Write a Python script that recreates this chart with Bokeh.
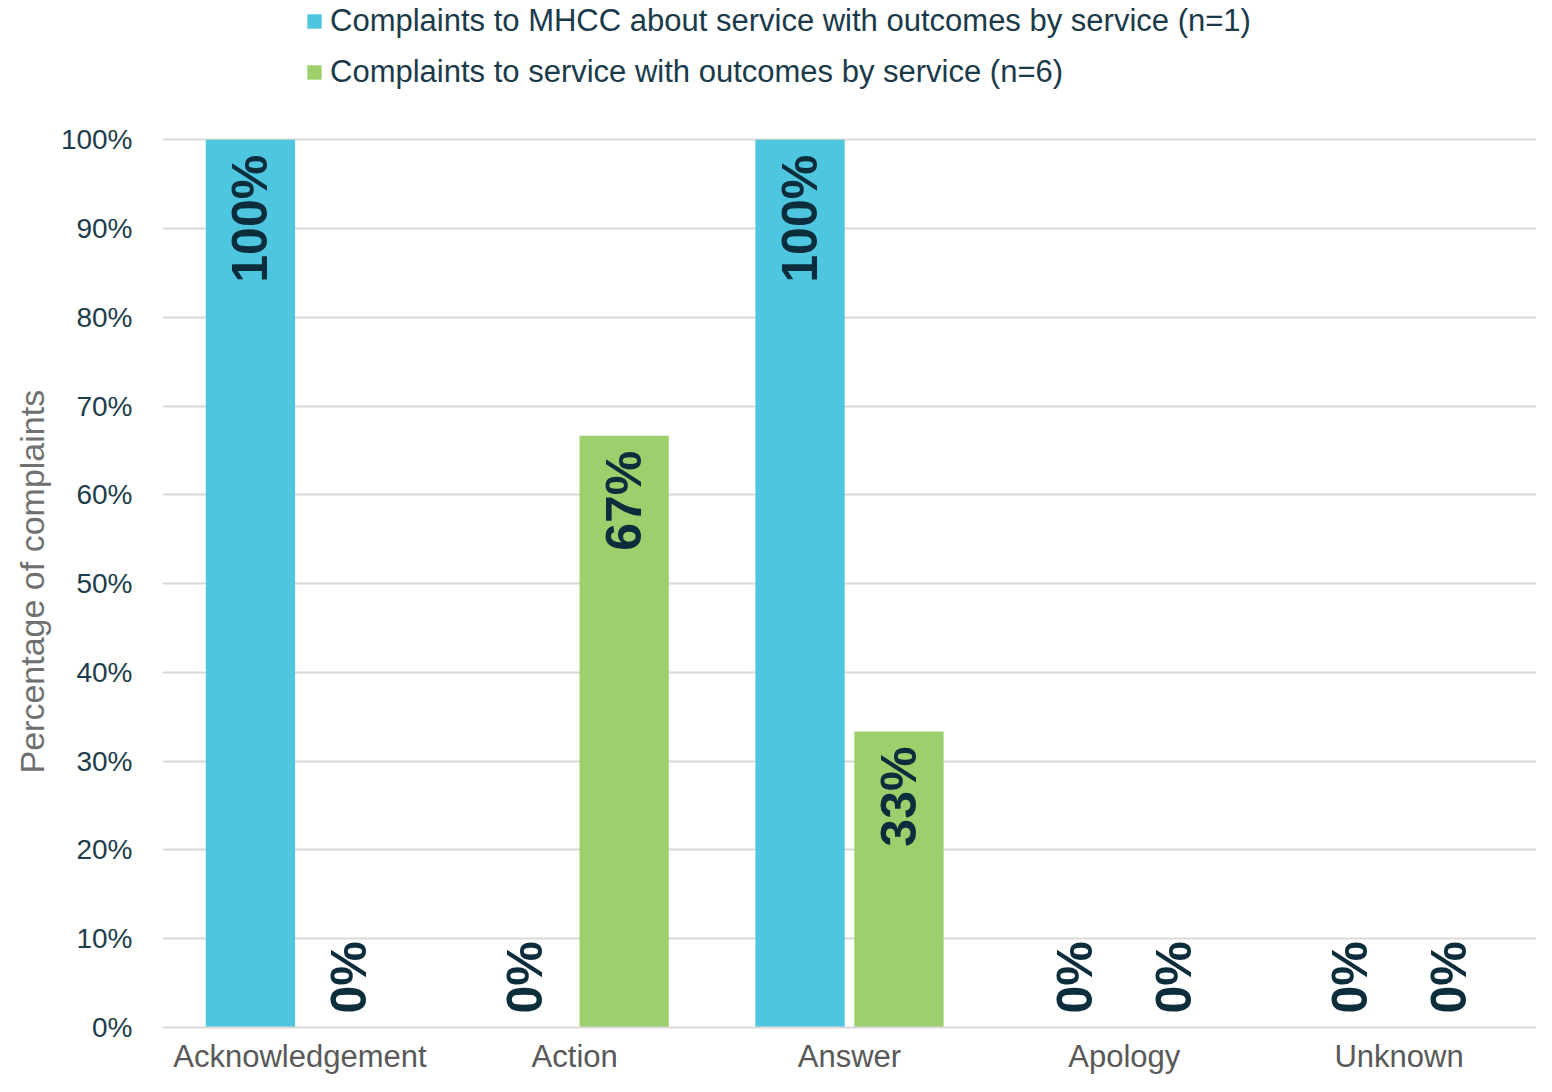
import math
from bokeh.plotting import figure
from bokeh.models import (ColumnDataSource, FactorRange, NumeralTickFormatter,
                          Legend, LegendItem, CDSView, BooleanFilter, FixedTicker,
                          Range1d, Title)
from bokeh.transform import dodge
from bokeh.embed import file_html
from bokeh.resources import INLINE
from bokeh.core.properties import value

categories = ["Acknowledgement", "Action", "Answer", "Apology", "Unknown"]
mhcc = [1.0, 0.0, 1.0, 0.0, 0.0]
service = [0.0, 4 / 6, 2 / 6, 0.0, 0.0]
series_names = ["Complaints to MHCC about service with outcomes by service (n=1)",
                "Complaints to service with outcomes by service (n=6)"]
y_ticks = [i / 10 for i in range(11)]

BLUE = "#4fc6df"
GREEN = "#9dcf6c"
DARK = "#0c2d3c"
FONT = "Liberation Sans"

FIG_H = 1076
BOTTOM = 44
FRAME_H = FIG_H - BOTTOM          # frame spans the whole top of the figure
PLOT_H = 892                      # pixel height of the 0..100% band
y_end = FRAME_H / PLOT_H          # headroom above 100% holds the legend

p = figure(x_range=FactorRange(*categories, range_padding=0),
           y_range=Range1d(0, y_end),
           width=1536, height=FIG_H, output_backend="svg", toolbar_location=None,
           min_border_left=162, min_border_right=0, min_border_top=0,
           min_border_bottom=BOTTOM)
p.outline_line_color = None
p.background_fill_color = "white"

src = ColumnDataSource(dict(cat=categories, mhcc=mhcc, service=service,
                            mhcc_lbl=[f"{round(v*100)}%" for v in mhcc],
                            service_lbl=[f"{round(v*100)}%" for v in service]))

W = 0.325
D = 0.18
r1 = p.vbar(x=dodge("cat", -D, range=p.x_range), top="mhcc", width=W, source=src,
            fill_color=BLUE, line_color=None)
r2 = p.vbar(x=dodge("cat", D, range=p.x_range), top="service", width=W, source=src,
            fill_color=GREEN, line_color=None)

for col, off in (("mhcc", -D), ("service", D)):
    vals = src.data[col]
    zero = [v == 0 for v in vals]
    nonzero = [v != 0 for v in vals]
    common = dict(x=dodge("cat", off, range=p.x_range), text=col + "_lbl", source=src,
                  angle=math.pi / 2, text_baseline="middle",
                  text_font=value(FONT), text_font_size="50px", text_font_style="bold",
                  text_color=DARK)
    p.text(y=0, text_align="left", y_offset=-14,
           view=CDSView(filter=BooleanFilter(zero)), **common)
    p.text(y=col, text_align="right", y_offset=15,
           view=CDSView(filter=BooleanFilter(nonzero)), **common)

# axes
p.yaxis.ticker = FixedTicker(ticks=y_ticks)
p.yaxis.formatter = NumeralTickFormatter(format="0%")
p.yaxis.axis_line_color = None
p.yaxis.major_tick_line_color = None
p.yaxis.minor_tick_line_color = None
p.yaxis.major_label_standoff = 24
p.yaxis.major_label_text_font = FONT
p.yaxis.major_label_text_font_size = "28px"
p.yaxis.major_label_text_color = "#1d3d4c"

ylabel = Title(text="Percentage of complaints", align="left", offset=254,
               text_font=FONT, text_font_size="34px", text_font_style="normal",
               text_color="#707070", standoff=14)
p.add_layout(ylabel, "left")

p.xaxis.axis_line_color = "#d9d9d9"
p.xaxis.axis_line_width = 2
p.xaxis.major_tick_line_color = None
p.xaxis.minor_tick_line_color = None
p.xaxis.major_label_standoff = 5
p.xaxis.major_label_text_font = FONT
p.xaxis.major_label_text_font_size = "31px"
p.xaxis.major_label_text_color = "#595959"

p.xgrid.grid_line_color = None
p.ygrid.grid_line_color = "#d9d9d9"
p.ygrid.grid_line_width = 2

legend = Legend(items=[LegendItem(label=series_names[0], renderers=[r1]),
                       LegendItem(label=series_names[1], renderers=[r2])],
                location=(143, FRAME_H - 95), orientation="vertical",
                glyph_width=18, glyph_height=18, label_standoff=7,
                label_text_font=FONT, label_text_font_size="31px",
                label_text_color="#1a3a4a", label_height=30, spacing=15,
                padding=0, margin=0, border_line_alpha=0, background_fill_alpha=0)
p.add_layout(legend, "center")

open("out.html", "w").write(file_html(p, INLINE))
